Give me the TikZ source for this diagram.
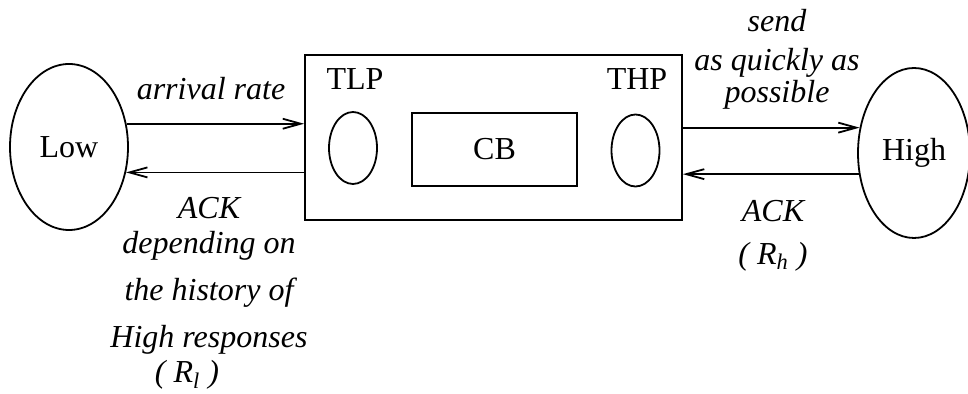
\documentclass[tikz,border=0pt]{standalone}
\usepackage{fontspec}
\setmainfont{Liberation Serif}
\usetikzlibrary{shapes.geometric,arrows.meta,positioning}

\tikzset{
  host/.style={draw, ellipse, line width=0.9pt, minimum width=59pt, minimum height=83pt, inner sep=0pt},
  queue/.style={draw, ellipse, line width=0.9pt, minimum width=24pt, minimum height=36pt, inner sep=0pt},
  flow/.style={-{Straight Barb[length=9pt,width=5pt]}, line width=0.9pt},
  lbl/.style={font=\fontsize{16}{17.5}\selectfont\itshape, align=center, inner sep=0pt},
}

\begin{document}
\begin{tikzpicture}[x=0.5pt,y=-0.5pt,font=\fontsize{16}{17.5}\selectfont]
\useasboundingbox (0,0) rectangle (968,394);

% Low et High
\node[host] (low) at (69,147) {Low};
\node[host, minimum width=56pt, minimum height=85pt] (high) at (914,153) {High};

% boite centrale
\node[draw, line width=0.9pt, minimum width=188.5pt, minimum height=82.5pt] (gw) at (493.5,137.5) {};
\node[queue] (tlp) at (353,148) {};
\node[queue] (thp) at (635.5,150.5) {};
\node[draw, line width=0.9pt, minimum width=82.5pt, minimum height=36.5pt] (cb) at (494.5,149.5) {CB};

\node[anchor=base, inner sep=0pt] (tlplbl) at (355,90) {TLP};
\node[anchor=base, inner sep=0pt] (thplbl) at (637,90) {THP};

% fleches
\draw[flow] (low.22) -- (low.22 -| gw.west);
\draw[flow] (low.-24 -| gw.west) -- (low.-24);
\draw[flow] (gw.east |- high.155) -- (high.155);
\draw[flow] (high.201) -- (high.201 -| gw.east);

% textes
\node[lbl, anchor=base] (rate) at (211,100) {arrival rate};
\node[lbl, anchor=north] (send) at (777,9)
{send\\[2pt] as quickly as\\[-1.5pt] possible};
\node[lbl, anchor=north] (ackh) at (773,200)
{ACK\\[4pt] ( R\textsubscript{h} )};
\node[lbl, anchor=north] (ackl) at (209,196.5)
{ACK\\ depending on\\[6pt] the history of\\[6pt] High responses};
\node[lbl, anchor=base] (rl) at (187,383) {( R\textsubscript{l} )};

\end{tikzpicture}
\end{document}
